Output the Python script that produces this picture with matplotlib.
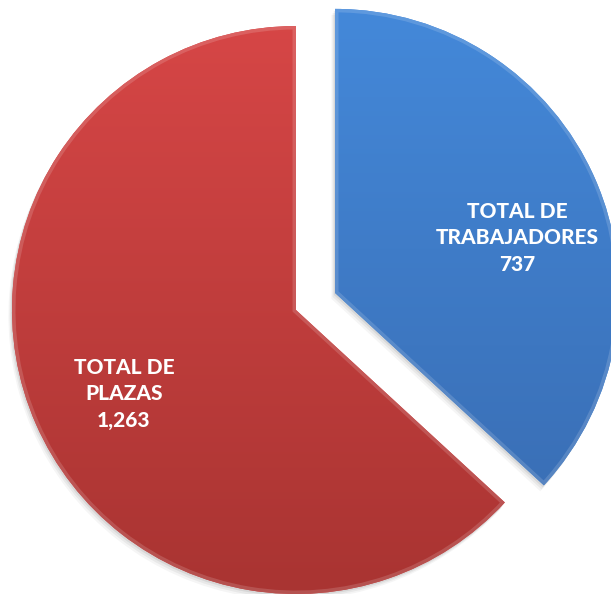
import numpy as np
import matplotlib
matplotlib.use("Agg")
import matplotlib.pyplot as plt
from matplotlib.colors import LinearSegmentedColormap

labels = ["TOTAL DE\nTRABAJADORES\n737", "TOTAL DE\nPLAZAS\n1,263"]
values = [737, 1263]
explode_frac = [0.15, 0.0]
top_colors = ["#4489DA", "#D84747"]
bottom_colors = ["#386AAF", "#A93432"]

W, H = 611, 594
fig = plt.figure(figsize=(W / 100, H / 100), dpi=100)
ax = fig.add_axes([0, 0, 1, 1])

cx, cy, R = 296, 284, 284
wedges, _ = ax.pie(values, explode=[e * R for e in explode_frac], startangle=90,
                   counterclock=False, center=(cx, cy), radius=R, colors=top_colors,
                   wedgeprops=dict(linewidth=0))

# soft shadow
for w in wedges:
    for k, a in [(6, 0.04), (4, 0.05), (2, 0.07)]:
        sh = matplotlib.patches.Wedge((w.center[0] - k * 0.6, w.center[1] - k), w.r, w.theta1, w.theta2,
                                      facecolor="black", alpha=a, linewidth=0, zorder=0.5)
        ax.add_patch(sh)

for w, ct, cb in zip(wedges, top_colors, bottom_colors):
    w.set_zorder(1)
    cmap = LinearSegmentedColormap.from_list("g", [cb, ct])
    grad = np.linspace(0, 1, 256).reshape(-1, 1)
    im = ax.imshow(grad, cmap=cmap, extent=(0, W, 0, H), origin="lower",
                   aspect="auto", zorder=2, interpolation="bilinear")
    im.set_clip_path(w)
    edge = matplotlib.patches.Wedge(w.center, w.r, w.theta1, w.theta2,
                                    facecolor="none", edgecolor="white",
                                    alpha=0.15, linewidth=5, zorder=3)
    ax.add_patch(edge)
    edge.set_clip_path(w)

fontkw = dict(color="white", fontsize=15, fontweight="black", family=["Lato", "DejaVu Sans"],
              ha="center", va="center", linespacing=1.45, zorder=5)
ax.text(517, H - 238, labels[0], **fontkw)
ax.text(124, H - 394, labels[1], **fontkw)

ax.set_xlim(0, W)
ax.set_ylim(0, H)
ax.set_aspect("equal")
ax.axis("off")
fig.savefig("out.png", dpi=100, facecolor="white")
